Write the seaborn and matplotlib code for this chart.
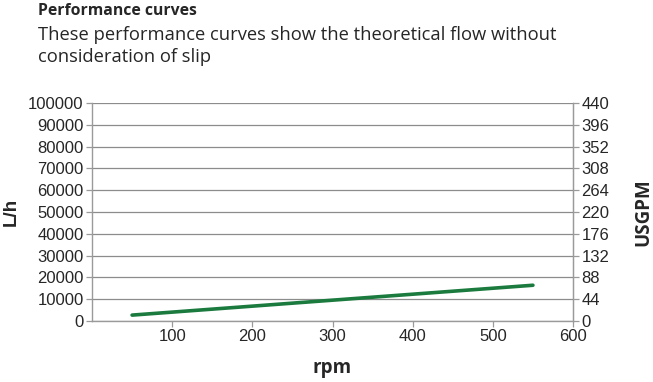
"""
plot.py
=======
Performance curve: theoretical flow (L/h and USGPM) against pump speed.
"""

import numpy as np
import pandas as pd
import matplotlib
matplotlib.use("Agg")
import matplotlib.pyplot as plt
import seaborn as sns

# ─────────────────────────────────────────────
# DATA
# ─────────────────────────────────────────────
rpm        = [50, 550]
flow_lh    = [2700, 16400]
x_ticks    = [100, 200, 300, 400, 500, 600]
lh_ticks   = [0, 10000, 20000, 30000, 40000, 50000, 60000, 70000, 80000, 90000, 100000]
gpm_ticks  = [0, 44, 88, 132, 176, 220, 264, 308, 352, 396, 440]

TITLE    = "Performance curves"
SUBTITLE = "These performance curves show the theoretical flow without\nconsideration of slip"

GREEN = "#1b7a3e"
GRID  = "#8c8c8c"
SPINE = "#9a9a9a"

df = pd.DataFrame({"rpm": rpm, "flow": flow_lh})

# ─────────────────────────────────────────────
# STYLE
# ─────────────────────────────────────────────
sns.set_style("white")
plt.rcParams["font.family"] = ["Liberation Sans", "DejaVu Sans"]

fig = plt.figure(figsize=(6.53, 3.82), dpi=100)
ax = fig.add_axes([0.1409, 0.1597, 0.7366, 0.5707])

sns.lineplot(data=df, x="rpm", y="flow", color=GREEN, linewidth=2.6, ax=ax)

ax.set_xlim(0, 600)
ax.set_ylim(0, 100000)
ax.set_xticks(x_ticks)
ax.set_yticks(lh_ticks)
ax.yaxis.grid(True, color=GRID, linewidth=0.9)
ax.set_axisbelow(True)
ax.tick_params(axis="both", labelsize=12, length=4, width=0.9, color=SPINE,
               direction="out", pad=2, left=True, bottom=True)

for side in ["left", "bottom", "right"]:
    ax.spines[side].set_color(SPINE)
    ax.spines[side].set_linewidth(1.0)
ax.spines["top"].set_visible(False)

ax.set_xlabel("rpm", fontsize=13.5, fontweight="bold", family="Open Sans", labelpad=10)
ax.set_ylabel("L/h", fontsize=13.5, fontweight="bold", labelpad=6)

# Secondary axis in US gallons per minute
ax2 = ax.twinx()
ax2.set_ylim(0, 440)
ax2.set_yticks(gpm_ticks)
ax2.tick_params(axis="y", labelsize=12, length=4, width=0.9, color=SPINE,
                direction="out", pad=2, right=True)
for side in ["left", "bottom", "top"]:
    ax2.spines[side].set_visible(False)
ax2.spines["right"].set_color(SPINE)
ax2.set_ylabel("USGPM", fontsize=13.5, fontweight="bold", family="Open Sans", labelpad=17)

# Heading
fig.text(38 / 653, 1 - 3 / 382, TITLE, fontsize=11.3, fontweight="bold",
         family="Open Sans", ha="left", va="top")
fig.text(38 / 653, 1 - 26 / 382, SUBTITLE, fontsize=13.2, family="Open Sans",
         ha="left", va="top", linespacing=1.25)

fig.savefig("out.png", dpi=100)
